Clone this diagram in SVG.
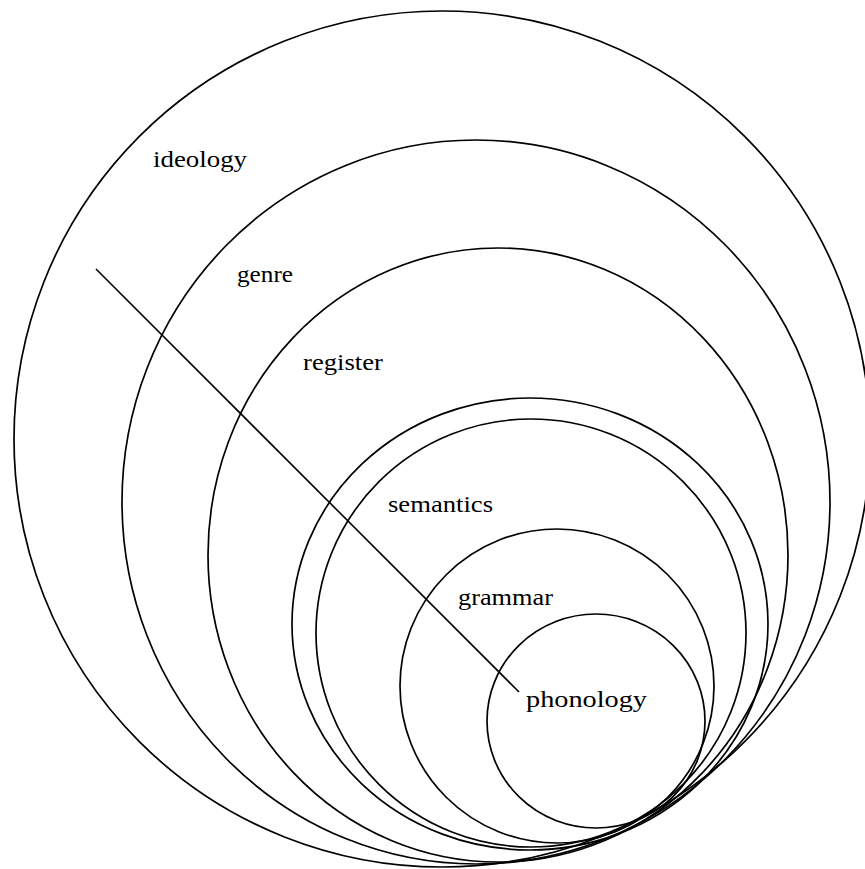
<svg xmlns="http://www.w3.org/2000/svg" width="865" height="869" viewBox="0 0 865 869">
<style>
.c{fill:none;stroke:#000;stroke-width:1.7}
.t{font-family:"Liberation Serif","Times New Roman",serif;font-size:23px;fill:#000}
</style>
<rect width="865" height="869" fill="#fff"/>
<g id="ideology"><ellipse class="c" cx="442" cy="439" rx="428" ry="428"/><text class="t" x="153" y="167" textLength="94" lengthAdjust="spacingAndGlyphs">ideology</text></g>
<g id="genre"><ellipse class="c" cx="476" cy="502" rx="354" ry="362"/><text class="t" x="237" y="282" textLength="56" lengthAdjust="spacingAndGlyphs">genre</text></g>
<g id="register"><ellipse class="c" cx="498" cy="555" rx="290" ry="307"/><text class="t" x="303" y="370" textLength="80" lengthAdjust="spacingAndGlyphs">register</text></g>
<g id="semantics"><ellipse class="c" cx="530" cy="624" rx="238" ry="226"/><ellipse class="c" cx="531" cy="633" rx="215" ry="214"/><text class="t" x="388" y="512" textLength="105" lengthAdjust="spacingAndGlyphs">semantics</text></g>
<g id="grammar"><ellipse class="c" cx="557" cy="686" rx="157" ry="157"/><text class="t" x="458" y="605" textLength="95" lengthAdjust="spacingAndGlyphs">grammar</text></g>
<g id="phonology"><ellipse class="c" cx="596" cy="721" rx="109" ry="107"/><text class="t" x="526" y="707" textLength="121" lengthAdjust="spacingAndGlyphs">phonology</text></g>
<g id="connectors"><line x1="96" y1="269" x2="519" y2="692" stroke="#000" stroke-width="1.6"/></g>
</svg>
